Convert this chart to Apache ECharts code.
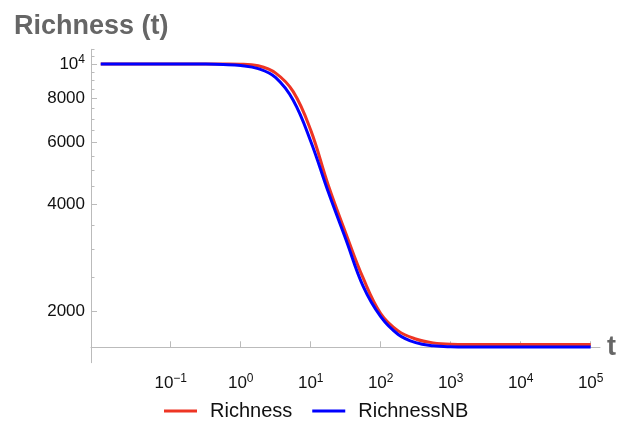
<!DOCTYPE html>
<html>
<head>
<meta charset="utf-8">
<script src="https://cdn.jsdelivr.net/npm/echarts@6/dist/echarts.min.js"></script>
<style>
  html, body { margin: 0; padding: 0; background: #fff; }
  #chart { width: 626px; height: 421px; }
</style>
</head>
<body>
<div id="chart"></div>
<script>
// Time points t (log-spaced)
const tValues = [0.01, 0.03162, 0.1, 0.3162, 0.5623, 1, 1.778, 3.162, 5.623, 10, 17.78, 31.62, 56.23,
                 100, 177.8, 316.2, 562.3, 1000, 3162, 10000, 31620, 100000];
// Richness with and without the NB correction
const richness   = [10000, 10000, 10000, 9998, 9995, 9985, 9880, 9420, 8350, 6500, 4550, 3330, 2480,
                    1970, 1760, 1670, 1628, 1614, 1610, 1610, 1610, 1610];
const richnessNB = [10000, 10000, 10000, 9990, 9965, 9900, 9700, 9150, 7900, 6050, 4350, 3200, 2350,
                    1930, 1720, 1630, 1597, 1588, 1585, 1585, 1585, 1585];

// Tick marks
const xTickPowers = [-1, 0, 1, 2, 3, 4, 5];
const yMajorTicks = [2000, 4000, 6000, 8000, 10000];
const yMinorTicks = [2500, 3000, 3500, 4500, 5000, 5500, 6500, 7000, 7500, 8500, 9000, 9500, 10500, 11000];

// Both axes are logarithmic; values are plotted as log10.
// The y scale is shifted so that the horizontal axis crosses at Y_CROSS (value 0 after shift).
const Y_CROSS = 1582;
const Y_LOW = 1431, Y_HIGH = 11000;
const X_LOW = -2.139, X_HIGH = 5.133;
const yShift = Math.log10(Y_CROSS);
const ty = v => Math.log10(v) - yShift;

const toPoints = vals => tValues.map((t, i) => [Math.log10(t), ty(vals[i])]);

const FONT = 'Liberation Sans, Arial, sans-serif';
const supRich = {
  b: { fontSize: 17, color: '#111', fontFamily: FONT },
  s: { fontSize: 12, color: '#111', fontFamily: FONT, padding: [0, 0, 9, 0] }
};

const chart = echarts.init(document.getElementById('chart'));
chart.setOption({
  animation: false,
  title: {
    text: 'Richness (t)',
    left: 9, top: 8,
    textStyle: { fontSize: 27, fontWeight: 'bold', color: '#666', fontFamily: FONT }
  },
  legend: {
    data: ['Richness', 'RichnessNB'],
    left: 159, top: 396,
    icon: 'rect', itemWidth: 33, itemHeight: 3, itemGap: 20,
    textStyle: { fontSize: 20, color: '#111', fontFamily: FONT, padding: [0, 0, 0, 8] }
  },
  grid: { left: 91, right: 26, top: 49.3, bottom: 58.3 },
  xAxis: {
    type: 'value', min: X_LOW, max: X_HIGH,
    name: 't', nameLocation: 'end', nameGap: 7,
    nameTextStyle: { fontSize: 27, fontWeight: 'bold', color: '#666', fontFamily: FONT, verticalAlign: 'middle' },
    axisLine: { onZero: true, lineStyle: { color: '#bbb', width: 1 } },
    axisTick: { show: true, inside: true, length: 6, customValues: xTickPowers, lineStyle: { color: '#bbb' } },
    splitLine: { show: false },
    axisLabel: {
      customValues: xTickPowers, margin: 10,
      formatter: v => '{b|10}{s|' + (v < 0 ? '\u2212' + (-v) : v) + '}',
      rich: supRich
    }
  },
  yAxis: [{
    type: 'value', min: ty(Y_LOW), max: ty(Y_HIGH),
    axisLine: { show: true, onZero: false, lineStyle: { color: '#bbb', width: 1 } },
    axisTick: { show: true, inside: true, length: 6, customValues: yMajorTicks.map(ty), lineStyle: { color: '#bbb' } },
    splitLine: { show: false },
    axisLabel: {
      customValues: yMajorTicks.map(ty), margin: 6,
      formatter: v => {
        const n = Math.round(Math.pow(10, v + yShift) / 10) * 10;
        return n === 10000 ? '{b|10}{s|4}' : '{b|' + n + '}';
      },
      rich: supRich
    }
  }, {
    type: 'value', position: 'left', min: ty(Y_LOW), max: ty(Y_HIGH),
    axisLine: { show: false, onZero: false },
    axisTick: { show: true, inside: true, length: 3.5, customValues: yMinorTicks.map(ty), lineStyle: { color: '#bbb' } },
    axisLabel: { show: false },
    splitLine: { show: false }
  }],
  series: [{
    name: 'Richness', type: 'line', data: toPoints(richness),
    showSymbol: false, smooth: 0.4,
    lineStyle: { color: '#EE3524', width: 3 }, itemStyle: { color: '#EE3524' }
  }, {
    name: 'RichnessNB', type: 'line', data: toPoints(richnessNB),
    showSymbol: false, smooth: 0.4,
    lineStyle: { color: '#0000FF', width: 3 }, itemStyle: { color: '#0000FF' }
  }]
});
</script>
</body>
</html>
